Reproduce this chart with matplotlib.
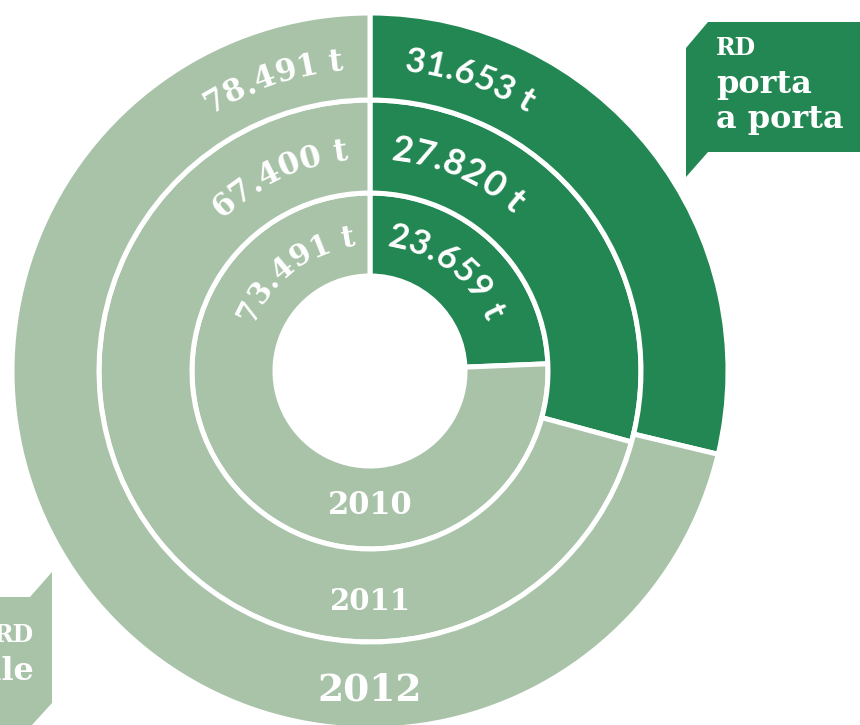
import numpy as np
import matplotlib
matplotlib.use('Agg')
import matplotlib.pyplot as plt
from matplotlib.font_manager import FontProperties, findfont
from matplotlib.ft2font import FT2Font
from matplotlib.patches import Polygon

# raccolta differenziata, tonnellate per anno
anni = ['2010', '2011', '2012']
porta_a_porta = [23659, 27820, 31653]
stradale = [73491, 67400, 78491]

VERDE = '#228752'
VERDE_CHIARO = '#A9C3A9'

W_PX, H_PX, DPI = 860, 725, 100
CX, CY = 370, 371          # centro delle corone in pixel
R_PX = 358                 # raggio esterno in pixel

# raggi (in pixel) dei bordi delle corone, dall'interno all'esterno
bordi = [95, 178, 271, 358]
# raggio della linea di base delle etichette e angolo di partenza
base_etichette = [126, 212, 302]
ang_pap = [7.5, 5.5, 6.5]
ang_str = [-6.5, -6.0, -5.0]
dim_str = [21, 22, 22]
dim_pap = [25, 26, 25]
pos_anni = [134, 230, 319]
dim_anni = [22, 21, 27]

fp_serif = lambda s: FontProperties(family='DejaVu Serif', weight='bold', size=s)
fp_sans = lambda s: FontProperties(family='Lato', weight='bold', size=s)


def fmt_t(v):
    return f'{v:,}'.replace(',', '.') + ' t'


def testo_ad_arco(ax, s, r_px, ang, fp, allinea='start'):
    """Scrive s lungo un arco di raggio r_px (baseline), angolo in gradi
    misurato in senso orario dalle ore 12."""
    font = FT2Font(findfont(fp))
    font.set_size(fp.get_size_in_points(), 72)
    adv = np.array([font.load_char(ord(c)).linearHoriAdvance / 65536 for c in s])
    adv = adv * DPI / 72
    centri = np.cumsum(adv) - adv / 2
    a0 = np.radians(ang)
    if allinea == 'end':
        a0 -= adv.sum() / r_px
    elif allinea == 'center':
        a0 -= adv.sum() / (2 * r_px)
    for c, m in zip(s, centri):
        if c == ' ':
            continue
        a = a0 + m / r_px
        ax.text(r_px * np.sin(a) / R_PX, r_px * np.cos(a) / R_PX, c,
                rotation=-np.degrees(a), rotation_mode='anchor',
                ha='center', va='baseline', color='white', fontproperties=fp)


fig = plt.figure(figsize=(W_PX / DPI, H_PX / DPI), dpi=DPI)
ax = fig.add_axes([0, 0, 1, 1])

for i in range(3):
    r_out = bordi[i + 1] / R_PX
    r_in = bordi[i] / R_PX
    ax.pie([porta_a_porta[i], stradale[i]], radius=r_out, startangle=90,
           counterclock=False, colors=[VERDE, VERDE_CHIARO],
           wedgeprops=dict(width=r_out - r_in, edgecolor='white', linewidth=3.6))

ax.set_xlim(-CX / R_PX, (W_PX - CX) / R_PX)
ax.set_ylim(-(H_PX - CY) / R_PX, CY / R_PX)
ax.set_aspect('equal')
ax.axis('off')

for i in range(3):
    testo_ad_arco(ax, fmt_t(porta_a_porta[i]), base_etichette[i], ang_pap[i],
                  fp_sans(dim_pap[i]), allinea='start')
    testo_ad_arco(ax, fmt_t(stradale[i]), base_etichette[i], ang_str[i],
                  fp_serif(dim_str[i]), allinea='end')
    ax.text(0, -pos_anni[i] / R_PX, anni[i], ha='center', va='center',
            color='white', fontproperties=fp_serif(dim_anni[i]))


def px(x, y):
    return (x / W_PX, 1 - y / H_PX)


# riquadri della legenda
fig.patches.append(Polygon([px(686, 48), px(708, 22), px(860, 22), px(860, 152),
                            px(708, 152), px(686, 177)], closed=True,
                           transform=fig.transFigure, facecolor=VERDE, edgecolor='none'))
fig.text(*px(716, 55), 'RD', color='white', fontproperties=fp_serif(17), va='baseline')
fig.text(*px(716, 93), 'porta', color='white', fontproperties=fp_serif(23), va='baseline')
fig.text(*px(716, 128), 'a porta', color='white', fontproperties=fp_serif(23), va='baseline')

fig.patches.append(Polygon([px(0, 597), px(30, 597), px(52, 572), px(52, 703),
                            px(32, 725), px(0, 725)], closed=True,
                           transform=fig.transFigure, facecolor=VERDE_CHIARO, edgecolor='none'))
fig.text(*px(34, 642), 'RD', color='white', fontproperties=fp_serif(17),
         va='baseline', ha='right')
fig.text(*px(34, 680), 'stradale', color='white', fontproperties=fp_serif(23),
         va='baseline', ha='right')

fig.savefig('out.png', dpi=DPI)
